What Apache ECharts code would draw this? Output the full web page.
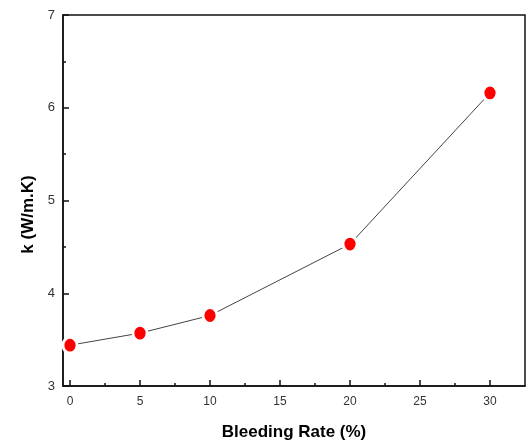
<!DOCTYPE html>
<html>
<head>
<meta charset="utf-8">
<script src="https://cdn.jsdelivr.net/npm/echarts@6/dist/echarts.min.js"></script>
<style>html,body{margin:0;padding:0;background:#fff}#c{width:527px;height:446px}</style>
</head>
<body>
<div id="c"></div>
<script>
const bleedingRate = [0, 5, 10, 20, 30];
const kValues = [3.44, 3.57, 3.76, 4.53, 6.16];
const xMajorTicks = [0, 5, 10, 15, 20, 25, 30];
const xMinorTicks = [2.5, 7.5, 12.5, 17.5, 22.5, 27.5];
const xTitle = 'Bleeding Rate (%)';
const yTitle = 'k (W/m.K)';

const chart = echarts.init(document.getElementById('c'), null, {renderer: 'canvas'});
const axisCol = '#111';
chart.setOption({
  animation: false,
  backgroundColor: '#fff',
  grid: {left: 63, top: 15, right: 2, bottom: 58, show: true, borderColor: axisCol, borderWidth: 1.5, backgroundColor: 'transparent'},
  xAxis: [{
    type: 'value', min: -0.5, max: 32.5,
    name: xTitle, nameLocation: 'middle', nameGap: 38,
    nameTextStyle: {fontFamily: 'Liberation Sans', fontWeight: 'bold', fontSize: 17, color: '#000'},
    axisLine: {show: true, onZero: false, lineStyle: {color: axisCol, width: 1.5}},
    axisTick: {show: true, inside: true, length: 6, customValues: xMajorTicks, lineStyle: {color: axisCol, width: 1.5}},
    axisLabel: {show: true, customValues: xMajorTicks, margin: 10, fontFamily: 'Liberation Sans', fontSize: 12, color: '#333'},
    splitLine: {show: false}
  }, {
    type: 'value', min: -0.5, max: 32.5, position: 'bottom',
    axisLine: {show: false, onZero: false},
    axisTick: {show: true, inside: true, length: 3, customValues: xMinorTicks, lineStyle: {color: axisCol, width: 1.5}},
    axisLabel: {show: false},
    splitLine: {show: false}
  }],
  yAxis: {
    type: 'value', min: 3, max: 7, interval: 1,
    name: yTitle, nameLocation: 'middle', nameGap: 25,
    nameTextStyle: {fontFamily: 'Liberation Sans', fontWeight: 'bold', fontSize: 17, color: '#000', padding: [0, 28, 0, 0]},
    axisLine: {show: true, onZero: false, lineStyle: {color: axisCol, width: 1.5}},
    axisTick: {show: true, inside: true, length: 6, lineStyle: {color: axisCol, width: 1.5}},
    minorTick: {show: true, splitNumber: 2, length: 3, lineStyle: {color: axisCol, width: 1.5}},
    axisLabel: {margin: 8, fontFamily: 'Liberation Sans', fontSize: 13, color: '#333'},
    splitLine: {show: false}
  },
  series: [{
    type: 'line',
    data: bleedingRate.map((x, i) => [x, kValues[i]]),
    symbol: 'circle',
    symbolSize: [14, 16],
    lineStyle: {color: '#444', width: 1},
    itemStyle: {color: '#ff0000', borderColor: '#fff', borderWidth: 3},
    z: 3
  }]
});
</script>
</body>
</html>
